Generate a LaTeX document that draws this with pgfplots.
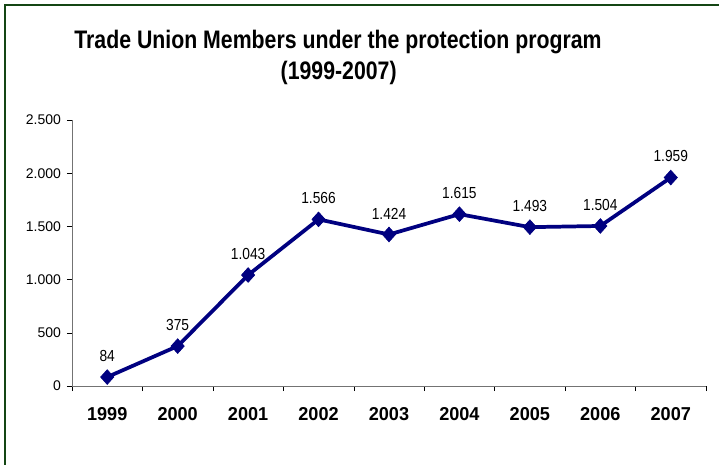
\documentclass[border=0pt]{standalone}
\usepackage{pgfplots}
\pgfplotsset{compat=1.18}
\usepackage{fontspec}
\setmainfont{Liberation Sans}
\definecolor{navyline}{RGB}{0,0,128}
\definecolor{framegreen}{RGB}{20,70,20}
\begin{document}
\begin{tikzpicture}
\useasboundingbox (0pt,0pt) rectangle (539.25pt,348.75pt);
\fill[white] (0pt,0pt) rectangle (539.25pt,348.75pt);
\draw[framegreen,line width=1.5pt] (3.75pt,0pt) -- (3.75pt,345pt) -- (539.25pt,345pt);
% title (condensed, as in the spreadsheet original)
\node[font=\bfseries\fontsize{19}{22}\selectfont, xscale=0.84] at (253.5pt,317.25pt) {Trade Union Members under the protection program};
\node[font=\bfseries\fontsize{19}{22}\selectfont, xscale=0.84] at (254pt,294pt) {(1999-2007)};
\begin{axis}[
    at={(54pt,59.25pt)}, anchor=south west,
    scale only axis,
    width=475.5pt, height=199.5pt,
    xmin=-0.5, xmax=8.5,
    ymin=0, ymax=2500,
    axis x line=bottom, axis y line=left,
    axis line style={-, draw=black!55},
    xtick={0,...,8},
    xticklabels={1999,2000,2001,2002,2003,2004,2005,2006,2007},
    major x tick style={draw=none},
    minor xtick={-0.5,0.5,...,8.5},
    ytick={0,500,...,2500},
    tick align=outside,
    tick style={black, thin},
    major tick length=3.75pt, minor tick length=3.75pt,
    xticklabel style={font=\bfseries\fontsize{14}{16}\selectfont, xscale=0.97, yshift=-9pt},
    yticklabel style={font=\fontsize{10.5}{12}\selectfont, xshift=-1pt},
    scaled y ticks=false,
    /pgf/number format/.cd, 1000 sep={.}, assume math mode=true,
    /pgfplots/.cd,
    clip=false,
    nodes near coords,
    every node near coord/.append style={font=\fontsize{12}{14}\selectfont, xscale=0.86, black, yshift=8pt},
]
\addplot[navyline, line width=2.8pt, mark=diamond*, mark size=5.5pt,
    mark options={solid, fill=navyline, line width=0.5pt, xscale=1.2}]
coordinates {
    (0,84) (1,375) (2,1043) (3,1566) (4,1424)
    (5,1615) (6,1493) (7,1504) (8,1959)
};
\end{axis}
\end{tikzpicture}
\end{document}
